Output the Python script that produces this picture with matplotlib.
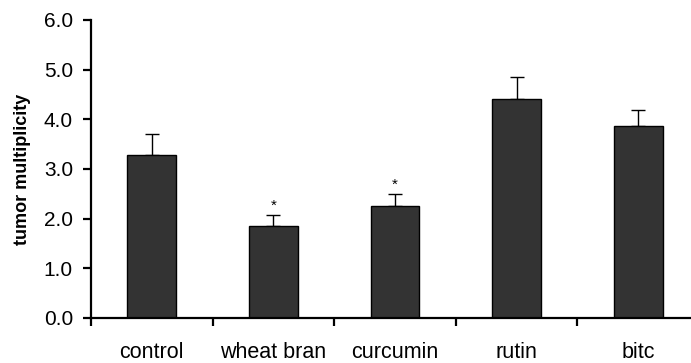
import matplotlib.pyplot as plt
import numpy as np

plt.rcParams['font.family'] = ['Liberation Sans', 'DejaVu Sans']

groups = ["control", "wheat bran", "curcumin", "rutin", "bitc"]
means = [3.28, 1.86, 2.25, 4.41, 3.86]
sem = [0.42, 0.21, 0.25, 0.44, 0.33]
signif = ["", "*", "*", "", ""]

fig = plt.figure(figsize=(6.91, 3.63), dpi=100)
ax = fig.add_axes([0.1317, 0.124, 0.8799, 0.821])

x = np.arange(len(groups))
ax.bar(x, means, width=0.4, color="#333333", edgecolor="black", linewidth=1.0, zorder=2)
ax.errorbar(x, means, yerr=[np.zeros(len(sem)), sem], fmt="none", ecolor="black",
            elinewidth=1.0, capsize=5, capthick=1.0, zorder=1)

# significance markers above the error bars
for xi, m, s, mark in zip(x, means, sem, signif):
    if mark:
        ax.text(xi, m + s + 0.04, mark, ha="center", va="bottom", fontsize=11)

ax.set_xlim(-0.5, 4.5)
ax.set_ylim(0, 6)
ax.set_yticks(np.arange(0, 6.1, 1.0))
ax.set_yticklabels([f"{v:.1f}" for v in np.arange(0, 6.1, 1.0)], fontsize=15)
ax.set_ylabel("tumor multiplicity", fontsize=13, fontweight="bold", labelpad=9)

ax.set_xticks(x)
ax.set_xticklabels(groups, fontsize=15.5)
ax.set_xticks(np.arange(-0.5, 4.0, 1.0), minor=True)
ax.tick_params(axis="x", which="major", length=0, pad=17)
ax.tick_params(axis="x", which="minor", direction="out", length=6, width=1.6)
ax.tick_params(axis="y", direction="out", length=6, width=1.6, pad=7)

for side in ("top", "right"):
    ax.spines[side].set_visible(False)
for side in ("left", "bottom"):
    ax.spines[side].set_linewidth(1.6)

fig.savefig("out.png", dpi=100)
